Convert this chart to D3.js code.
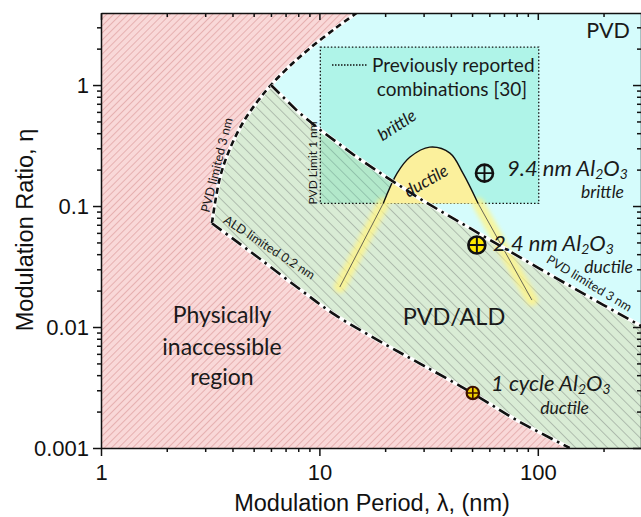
<!DOCTYPE html>
<html>
<head>
<meta charset="utf-8">
<script src="https://cdn.jsdelivr.net/npm/d3@7"></script>
<style>
  body { margin: 0; background: #fff; }
  svg { display: block; }
  .calibri { font-family: Lato, "Open Sans", sans-serif; fill: #1a1a1a; }
  .axis text { font-family: "Liberation Sans", Arial, sans-serif; font-size: 22px; fill: #111; }
  .axis path, .axis line { stroke: #111; stroke-width: 1.5; }
</style>
</head>
<body>
<svg id="chart" width="641" height="517"></svg>
<script>
// boundary lines: modulation period (nm) / modulation ratio
const pvdCurveLambda = [3.22, 3.5, 3.9, 4.5, 5.2, 6, 7.5, 9, 12, 14.8];
const pvdCurveEta = [0.072, 0.17, 0.3, 0.5, 0.73, 1, 1.5, 2, 3, 3.94];

const pvdLineLambda = [6, 8, 10, 15, 20, 30, 50, 70, 100, 150, 200, 300];
const pvdLineEta = [1, 0.6, 0.43, 0.25, 0.176, 0.11, 0.064, 0.045, 0.031, 0.0204, 0.0152, 0.0101];

const aldLambda = [3.22, 4, 5.3, 8, 11.8, 20, 30, 50, 80, 140];
const aldEta = [0.072, 0.054, 0.037, 0.021, 0.0126, 0.0072, 0.0048, 0.00285, 0.0017, 0.001];

// ductile "bell"
const bellLambda = [19.6, 22.7, 26, 32, 39.6, 45.4, 53.3];
const bellEta = [0.105, 0.187, 0.254, 0.307, 0.274, 0.187, 0.105];
const tailLeftLambda = [19.6, 12.4];
const tailLeftEta = [0.105, 0.0214];
const tailRightLambda = [53.3, 94];
const tailRightEta = [0.105, 0.0167];

// previously reported box
const boxLambda = [10.1, 101];
const boxEta = [0.105, 2.06];

// samples
const sampleLambda = [57, 52.6, 50.4];
const sampleEta = [0.187, 0.0476, 0.00285];

const xMajor = [1, 10, 100];
const yMajor = [0.001, 0.01, 0.1, 1];

const svg = d3.select('#chart');
const x = d3.scaleLog().domain([1, 300]).range([101, 642]);
const y = d3.scaleLog().domain([0.001, 3.94]).range([448, 13]);

const pts = (ls, es) => ls.map((l, i) => [x(l), y(es[i])]);
const smooth = d3.line().curve(d3.curveCatmullRom.alpha(0.5));
const straight = d3.line();

const defs = svg.append('defs');
defs.append('clipPath').attr('id', 'plot')
  .append('rect').attr('x', 101).attr('y', 13).attr('width', 541).attr('height', 435);

function hatch(id, bg, fg, size, angle, w) {
  const p = defs.append('pattern').attr('id', id)
    .attr('patternUnits', 'userSpaceOnUse')
    .attr('width', size).attr('height', size)
    .attr('patternTransform', `rotate(${angle})`);
  p.append('rect').attr('width', size).attr('height', size).attr('fill', bg);
  p.append('line').attr('x1', 0.5).attr('x2', 0.5).attr('y1', 0).attr('y2', size)
    .attr('stroke', fg).attr('stroke-width', w);
}
hatch('pinkHatch', '#f9d8d8', '#e6b0b0', 5, 45, 1);
hatch('greenHatch', '#d9ecd5', '#a9b6a8', 7.5, -45, 0.9);

const glow = defs.append('filter').attr('id', 'glow')
  .attr('x', '-50%').attr('y', '-50%').attr('width', '200%').attr('height', '200%');
glow.append('feGaussianBlur').attr('stdDeviation', 2);

const plot = svg.append('g').attr('clip-path', 'url(#plot)');

// background = physically inaccessible
plot.append('rect').attr('x', 101).attr('y', 13).attr('width', 541).attr('height', 435)
  .attr('fill', 'url(#pinkHatch)');

const curvePts = pts(pvdCurveLambda, pvdCurveEta);
const iCorner = pvdCurveLambda.indexOf(6);
const lowerCurve = curvePts.slice(0, iCorner + 1);
const upperCurve = curvePts.slice(iCorner);
const rightLine = pts(pvdLineLambda, pvdLineEta);
const aldLine = pts(aldLambda, aldEta);

const join = (...paths) => paths.map((p, i) => i ? p.replace(/^M/, 'L') : p).join('');

// PVD/ALD region
plot.append('path')
  .attr('d', join(smooth(lowerCurve), straight(rightLine),
    `M${x(300)},${y(0.001)}`, smooth(aldLine.slice().reverse())) + 'Z')
  .attr('fill', 'url(#greenHatch)');

// PVD region
plot.append('path')
  .attr('d', join(smooth(upperCurve), `M${x(300)},${y(3.94)}`,
    straight(rightLine.slice().reverse())) + 'Z')
  .attr('fill', '#d5fcfc');

// previously reported box
plot.append('rect')
  .attr('x', x(boxLambda[0])).attr('y', y(boxEta[1]))
  .attr('width', x(boxLambda[1]) - x(boxLambda[0]))
  .attr('height', y(boxEta[0]) - y(boxEta[1]))
  .attr('fill', '#3fdcaa').attr('fill-opacity', 0.25)
  .attr('stroke', '#111').attr('stroke-width', 1.3).attr('stroke-dasharray', '1.5,2');

// ductile bell
const bellPts = pts(bellLambda, bellEta);
plot.append('path').attr('d', smooth(bellPts) + 'Z').attr('fill', '#fbf09c');
[pts(tailLeftLambda, tailLeftEta), pts(tailRightLambda, tailRightEta)].forEach(t => {
  plot.append('path').attr('d', straight(t)).attr('stroke', '#fff489')
    .attr('stroke-width', 12).attr('stroke-linecap', 'round').attr('fill', 'none')
    .attr('opacity', 0.8).attr('filter', 'url(#glow)');
  plot.append('path').attr('d', straight(t)).attr('stroke', '#444')
    .attr('stroke-width', 0.8).attr('fill', 'none');
});
plot.append('path').attr('d', smooth(bellPts)).attr('stroke', '#111')
  .attr('stroke-width', 1.4).attr('fill', 'none');

// boundary lines
function boundary(d, dash, w) {
  plot.append('path').attr('d', d).attr('fill', 'none')
    .attr('stroke', '#fff').attr('stroke-width', w + 1.2);
  plot.append('path').attr('d', d).attr('fill', 'none')
    .attr('stroke', '#111').attr('stroke-width', w).attr('stroke-dasharray', dash);
}
boundary(smooth(curvePts), '6,4', 2.6);
boundary(straight(rightLine), '12,5,2.5,5', 2.6);
boundary(smooth(aldLine), '12,5,2.5,5', 2.6);

// sample markers
const markStyle = [
  { r: 8.5, fill: 'none', stroke: '#111', sw: 2.6 },
  { r: 8.5, fill: '#ffe800', stroke: '#111', sw: 2.6 },
  { r: 6.2, fill: '#f0d000', stroke: '#3d1000', sw: 2.2 }
];
sampleLambda.forEach((l, i) => {
  const cx = x(l), cy = y(sampleEta[i]), s = markStyle[i];
  const g = plot.append('g');
  g.append('circle').attr('cx', cx).attr('cy', cy).attr('r', s.r)
    .attr('fill', s.fill).attr('stroke', s.stroke).attr('stroke-width', s.sw);
  g.append('path')
    .attr('d', `M${cx - s.r},${cy}H${cx + s.r}M${cx},${cy - s.r}V${cy + s.r}`)
    .attr('stroke', s.stroke).attr('stroke-width', s.sw * 0.75);
});

// axes
const minorX = [];
[1, 10, 100].forEach(d => { for (let k = 2; k <= 9; k++) if (d * k < 300) minorX.push(d * k); });
const minorY = [];
[0.001, 0.01, 0.1, 1].forEach(d => { for (let k = 2; k <= 9; k++) if (d * k < 3.94) minorY.push(d * k); });

const axBottom = svg.append('g').attr('class', 'axis').attr('transform', 'translate(0,448)');
axBottom.call(d3.axisBottom(x).tickValues(xMajor).tickSize(8).tickSizeOuter(0).tickPadding(8)
  .tickFormat(d3.format('d')));
axBottom.append('g').call(d3.axisBottom(x).tickValues(minorX).tickSize(4).tickSizeOuter(0).tickFormat(''))
  .select('.domain').remove();

const axTop = svg.append('g').attr('class', 'axis').attr('transform', 'translate(0,13)');
axTop.call(d3.axisTop(x).tickValues(xMajor).tickSize(-7).tickSizeOuter(0).tickFormat(''));
axTop.append('g').call(d3.axisTop(x).tickValues(minorX).tickSize(-4).tickSizeOuter(0).tickFormat(''))
  .select('.domain').remove();

const axLeft = svg.append('g').attr('class', 'axis').attr('transform', 'translate(101,0)');
axLeft.call(d3.axisLeft(y).tickValues(yMajor).tickSize(8).tickSizeOuter(0).tickPadding(4)
  .tickFormat(d => String(d)));
axLeft.append('g').call(d3.axisLeft(y).tickValues(minorY).tickSize(4).tickSizeOuter(0).tickFormat(''))
  .select('.domain').remove();

const axRight = svg.append('g').attr('class', 'axis').attr('transform', 'translate(641,0)');
axRight.call(d3.axisRight(y).tickValues(yMajor).tickSize(-8).tickSizeOuter(0).tickFormat(''));
axRight.append('g').call(d3.axisRight(y).tickValues(minorY).tickSize(-4).tickSizeOuter(0).tickFormat(''))
  .select('.domain').remove();

// axis titles
svg.append('text').attr('x', 372).attr('y', 511).attr('text-anchor', 'middle')
  .style('font-family', '"Liberation Sans", Arial, sans-serif').style('font-size', '23.5px').style('fill', '#111')
  .text('Modulation Period, λ, (nm)');
svg.append('text').attr('transform', 'translate(33,230) rotate(-90)').attr('text-anchor', 'middle')
  .style('font-family', '"Liberation Sans", Arial, sans-serif').style('font-size', '23.5px').style('fill', '#111')
  .text('Modulation Ratio, η');

// region labels
function label(txt, px, py, size, opts = {}) {
  const t = svg.append('text').attr('class', 'calibri')
    .attr('text-anchor', opts.anchor || 'middle')
    .style('font-size', size + 'px')
    .style('font-style', opts.italic ? 'italic' : 'normal');
  if (opts.rotate) t.attr('transform', `translate(${px},${py}) rotate(${opts.rotate})`);
  else t.attr('x', px).attr('y', py);
  t.text(txt);
  return t;
}
label('Physically', 222, 323, 23);
label('inaccessible', 222, 355, 23);
label('region', 222, 385, 23);
label('PVD/ALD', 454, 325, 23.5);
label('PVD', 608, 38, 21.5);

label('brittle', 400, 130, 17, { italic: true, rotate: -33 });
label('ductile', 429, 186, 17, { italic: true, rotate: -30 });

label('PVD limited 3 nm', 221, 166, 12.5, { rotate: -76 });
label('PVD Limit 1 nm', 317, 163, 12, { rotate: -90 });
label('ALD limited 0.2 nm', 267, 251, 12.5, { rotate: 33 });
label('PVD limited 3 nm', 587, 287, 12.5, { rotate: 31 });

// legend in box
svg.append('line').attr('x1', 332).attr('x2', 368).attr('y1', 65).attr('y2', 65)
  .attr('stroke', '#111').attr('stroke-width', 1.3).attr('stroke-dasharray', '1.5,1.5');
label('Previously reported', 372, 72, 19, { anchor: 'start' });
label('combinations [30]', 452, 96, 19);

// sample labels
function al2o3(prefix, px, py) {
  const t = svg.append('text').attr('class', 'calibri').attr('x', px).attr('y', py)
    .style('font-size', '22px').style('font-style', 'italic');
  t.append('tspan').text(prefix + ' Al');
  t.append('tspan').attr('baseline-shift', '-3').style('font-size', '14px').text('2');
  t.append('tspan').text('O');
  t.append('tspan').attr('baseline-shift', '-3').style('font-size', '14px').text('3');
}
al2o3('9.4 nm', 507, 176);
label('brittle', 624, 198, 17.5, { italic: true, anchor: 'end' });
al2o3('2.4 nm', 493, 251);
label('ductile', 633, 273, 17.5, { italic: true, anchor: 'end' });
al2o3('1 cycle', 491, 391);
label('ductile', 589, 414, 17.5, { italic: true, anchor: 'end' });
</script>
</body>
</html>
